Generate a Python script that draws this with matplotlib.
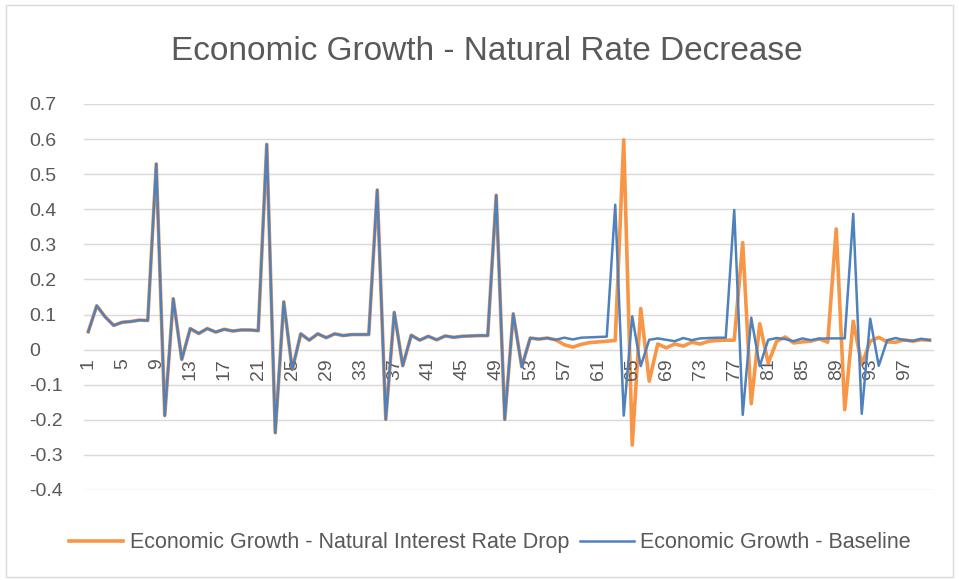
import numpy as np
import matplotlib
matplotlib.use("Agg")
import matplotlib.pyplot as plt
from matplotlib.patches import Rectangle

# categories 1..100
periods = list(range(1, 101))

baseline = [
    0.051, 0.125, 0.093, 0.069, 0.078, 0.080, 0.084, 0.083, 0.529, -0.188,
    0.145, -0.028, 0.060, 0.046, 0.060, 0.050, 0.058, 0.053, 0.056, 0.056,
    0.054, 0.585, -0.237, 0.136, -0.057, 0.045, 0.027, 0.045, 0.034, 0.045,
    0.040, 0.043, 0.043, 0.043, 0.455, -0.199, 0.106, -0.046, 0.041, 0.027,
    0.038, 0.028, 0.039, 0.035, 0.038, 0.039, 0.040, 0.040, 0.440, -0.199,
    0.102, -0.049, 0.033, 0.030, 0.033, 0.028, 0.034, 0.029, 0.034, 0.035,
    0.036, 0.037, 0.413, -0.188, 0.095, -0.047, 0.028, 0.032, 0.028, 0.024,
    0.033, 0.027, 0.032, 0.033, 0.034, 0.034, 0.398, -0.186, 0.091, -0.047,
    0.028, 0.033, 0.030, 0.024, 0.032, 0.027, 0.031, 0.032, 0.032, 0.032,
    0.387, -0.183, 0.088, -0.046, 0.027, 0.033, 0.027, 0.025, 0.031, 0.027,
]

rate_drop = [
    0.051, 0.125, 0.093, 0.069, 0.078, 0.080, 0.084, 0.083, 0.529, -0.188,
    0.145, -0.028, 0.060, 0.046, 0.060, 0.050, 0.058, 0.053, 0.056, 0.056,
    0.054, 0.585, -0.237, 0.136, -0.057, 0.045, 0.027, 0.045, 0.034, 0.045,
    0.040, 0.043, 0.043, 0.043, 0.455, -0.199, 0.106, -0.046, 0.041, 0.027,
    0.038, 0.028, 0.039, 0.035, 0.038, 0.039, 0.040, 0.040, 0.440, -0.199,
    0.102, -0.049, 0.033, 0.030, 0.033, 0.028, 0.014, 0.007, 0.015, 0.020,
    0.022, 0.024, 0.026, 0.598, -0.272, 0.117, -0.090, 0.016, 0.005, 0.016,
    0.010, 0.021, 0.016, 0.024, 0.026, 0.027, 0.027, 0.305, -0.154, 0.074,
    -0.038, 0.024, 0.036, 0.019, 0.022, 0.024, 0.031, 0.021, 0.344, -0.171,
    0.081, -0.043, 0.024, 0.035, 0.022, 0.021, 0.028, 0.024, 0.028, 0.027,
]

y_ticks = [0.7, 0.6, 0.5, 0.4, 0.3, 0.2, 0.1, 0, -0.1, -0.2, -0.3, -0.4]

orange = "#F79646"
blue = "#4F81BD"
grey_txt = "#595959"
grid_c = "#D9D9D9"

plt.rcParams['font.family'] = ['Liberation Sans', 'DejaVu Sans']

fig = plt.figure(figsize=(9.59, 5.8), dpi=100)
fig.patches.append(Rectangle((0.006, 0.006), 0.988, 0.985, transform=fig.transFigure,
                             fill=False, edgecolor=grid_c, linewidth=1.0))

ax = fig.add_axes([0.0876, 0.1552, 0.8863, 0.6655])

ax.plot(periods, rate_drop, color=orange, lw=2.6, solid_joinstyle='round',
        label="Economic Growth - Natural Interest Rate Drop", zorder=3)
ax.plot(periods, baseline, color=blue, lw=1.8, solid_joinstyle='round',
        label="Economic Growth - Baseline", zorder=4)

ax.set_xlim(0.5, 100.5)
ax.set_ylim(-0.4, 0.7)
ax.set_yticks(y_ticks)
ax.set_yticklabels([f"{v:g}" for v in y_ticks])
ax.grid(axis='y', color=grid_c, lw=1.0)
ax.set_axisbelow(True)
for s in ax.spines.values():
    s.set_visible(False)
ax.tick_params(axis='y', length=0, labelsize=14, labelcolor=grey_txt, pad=39.5)
for lbl in ax.get_yticklabels():
    lbl.set_horizontalalignment('left')

# category axis crosses at zero
ax.set_xticks([])
for p in periods[::4]:
    ax.annotate(str(p), xy=(p, 0), xycoords='data', xytext=(0, -6),
                textcoords='offset points', rotation=90, ha='center', va='top',
                fontsize=14, color=grey_txt)

fig.text(0.508, 0.912, "Economic Growth - Natural Rate Decrease", ha='center', va='center',
         fontsize=24, color=grey_txt)

fig.legend(loc='center', bbox_to_anchor=(0.511, 0.064), ncol=2, frameon=False,
           fontsize=15.5, labelcolor=grey_txt, handlelength=2.5, handletextpad=0.3,
           columnspacing=0.5)

fig.savefig("out.png", dpi=100)
